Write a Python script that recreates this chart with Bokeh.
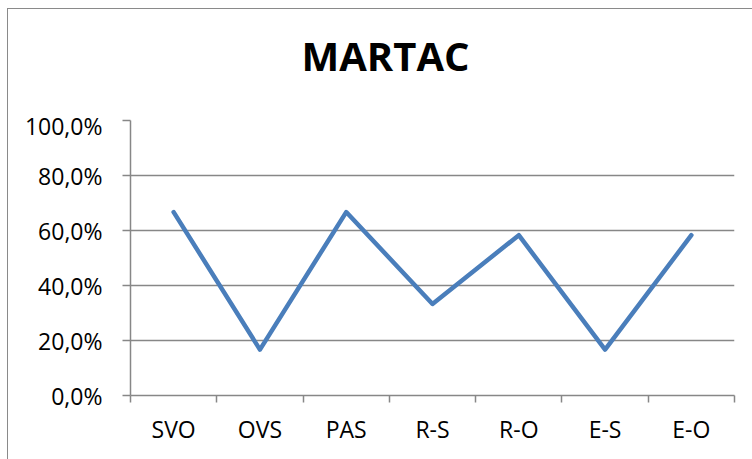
from bokeh.plotting import figure
from bokeh.models import FixedTicker, Range1d, Div
from bokeh.layouts import column
from bokeh.embed import file_html
from bokeh.resources import INLINE

categories = ["SVO", "OVS", "PAS", "R-S", "R-O", "E-S", "E-O"]
values = [0.667, 0.167, 0.667, 0.333, 0.583, 0.167, 0.583]
y_ticks = [0.0, 0.2, 0.4, 0.6, 0.8, 1.0]
y_tick_labels = ["0,0%", "20,0%", "40,0%", "60,0%", "80,0%", "100,0%"]
title_text = "MARTAC"

FONT = "Open Sans"
GRAY = "#878787"

x_pos = [i + 0.5 for i in range(len(categories))]

title_div = Div(text=('<div style="box-sizing:border-box; width:745px; text-align:center; '
                      'padding-top:19px; padding-left:10px; font-family:\'Open Sans\'; '
                      'font-weight:bold; font-size:40px; line-height:normal; color:#000;">'
                      + title_text + '</div>'),
                width=745, height=100, margin=0)

p = figure(width=745, height=350, output_backend="svg", toolbar_location=None,
           x_range=Range1d(0, len(categories)), y_range=Range1d(0, 1),
           min_border_left=122, min_border_right=19, min_border_top=11, min_border_bottom=64,
           margin=0)

p.outline_line_color = None
p.background_fill_color = "white"
p.border_fill_color = "white"

# y axis
p.yaxis.ticker = FixedTicker(ticks=y_ticks)
p.yaxis.major_label_overrides = {t: l for t, l in zip(y_ticks, y_tick_labels)}
p.yaxis.axis_line_color = GRAY
p.yaxis.axis_line_width = 1.5
p.yaxis.major_tick_line_color = GRAY
p.yaxis.major_tick_line_width = 1.5
p.yaxis.major_tick_out = 8
p.yaxis.major_tick_in = 0
p.yaxis.minor_tick_line_color = None
p.yaxis.major_label_standoff = 20
p.yaxis.major_label_text_font = FONT
p.yaxis.major_label_text_font_size = "23px"
p.yaxis.major_label_text_color = "#000000"

# x axis
p.xaxis.ticker = FixedTicker(ticks=x_pos, minor_ticks=list(range(len(categories) + 1)))
p.xaxis.major_label_overrides = {x: c for x, c in zip(x_pos, categories)}
p.xaxis.axis_line_color = GRAY
p.xaxis.axis_line_width = 1.5
p.xaxis.major_tick_line_color = None
p.xaxis.minor_tick_line_color = GRAY
p.xaxis.minor_tick_line_width = 1.5
p.xaxis.minor_tick_out = 7
p.xaxis.minor_tick_in = 0
p.xaxis.major_label_standoff = 10
p.xaxis.major_label_text_font = FONT
p.xaxis.major_label_text_font_size = "23px"
p.xaxis.major_label_text_color = "#000000"

p.xgrid.grid_line_color = None
p.ygrid.ticker = FixedTicker(ticks=y_ticks)
p.ygrid.grid_line_color = GRAY
p.ygrid.grid_line_width = 1.5

p.line(x_pos, values, line_color="#4A7EBB", line_width=4.5, line_cap="round", line_join="round")

# outer chart border (extends beyond the page on right and bottom)
layout = column(title_div, p, spacing=0,
                styles={"margin-left": "7px", "margin-top": "8px",
                        "border-left": "1.5px solid #8a8a8a", "border-top": "1.5px solid #8a8a8a",
                        "background-color": "white"})

open("out.html", "w").write(file_html(layout, INLINE))
